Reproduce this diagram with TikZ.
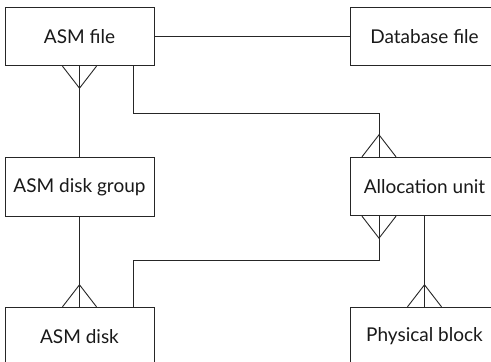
\documentclass[tikz,border=0pt]{standalone}
\usepackage{fontspec}
\setmainfont{Lato}
\usetikzlibrary{calc}
\tikzset{
  ent/.style={draw=black!85, rectangle, line width=0.9pt, minimum width=149pt, minimum height=58.5pt, inner sep=0pt, text=black!90, font=\fontsize{19}{22}\selectfont},
  link/.style={draw=black!85, line width=0.9pt},
  crowbelow/.pic={\draw[link] (-17,0) -- (0,22) -- (17,0);},
  crowabove/.pic={\draw[link] (-17,0) -- (0,-22) -- (17,0);}
}
\begin{document}
\begin{tikzpicture}[x=1pt,y=-1pt]
\useasboundingbox[fill=white] (0,0) rectangle (491,362);
\node[ent] (asmfile) at (79.5,36.5) {ASM file};
\node[ent] (dbfile) at (424.5,36.5) {Database file};
\node[ent] (dg) at (79.5,187) {ASM disk group};
\node[ent] (au) at (424.5,186.5) {Allocation unit};
\node[ent] (disk) at (79.5,336.5) {ASM disk};
\node[ent] (pb) at (424.5,336.5) {Physical block};

\draw[link] (asmfile) -- (dbfile);
\draw[link] (asmfile) -- (dg);
\draw[link] (dg) -- (disk);
\draw[link] (au.south) -- (pb.north);
\draw[link] ($(asmfile.south)+(53.5,0)$) -- ++(0,47) -| ($(au.north)+(-45.5,0)$);
\draw[link] ($(disk.north)+(53.5,0)$) -- ++(0,-46) -| ($(au.south)+(-45.5,0)$);

\pic at (asmfile.south) {crowbelow};
\pic at ($(au.north)+(-45.5,0)$) {crowabove};
\pic at ($(au.south)+(-45.5,0)$) {crowbelow};
\pic at (disk.north) {crowabove};
\pic at (pb.north) {crowabove};
\end{tikzpicture}
\end{document}
